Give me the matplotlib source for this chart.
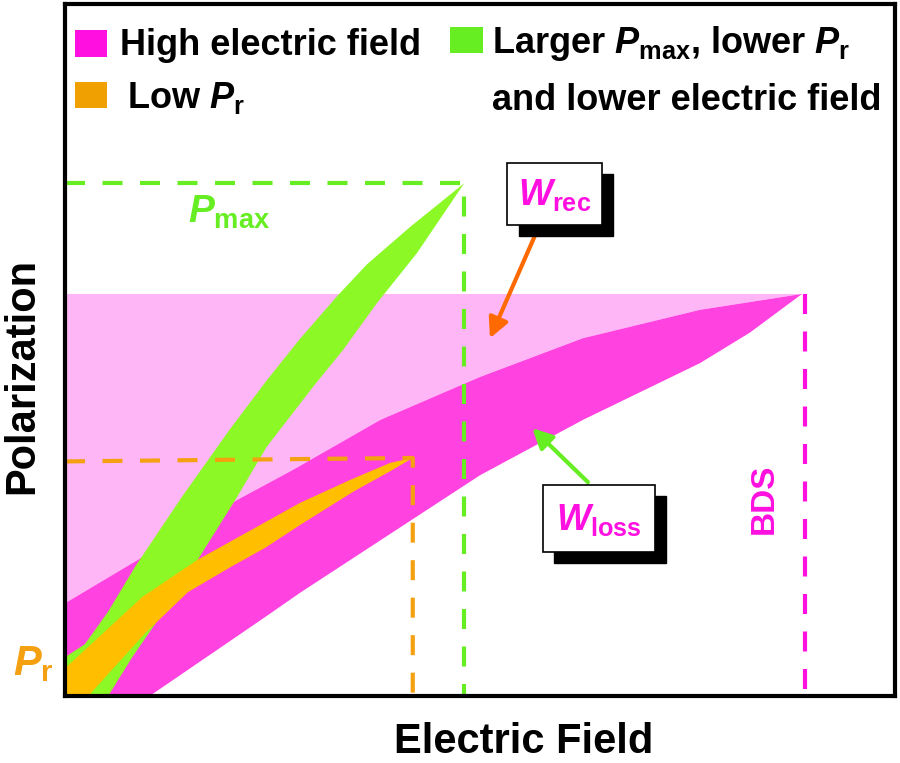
"""
Energy storage sketch: P-E loops for three strategies
"""

import matplotlib.pyplot as plt
from matplotlib.patches import Rectangle

plt.rcParams["font.family"] = ["Liberation Sans", "DejaVu Sans"]
plt.rcParams["font.weight"] = "bold"
plt.rcParams["mathtext.fontset"] = "custom"
plt.rcParams["mathtext.rm"] = "Liberation Sans:bold"
plt.rcParams["mathtext.it"] = "Liberation Sans:bold:italic"
plt.rcParams["mathtext.bf"] = "Liberation Sans:bold"

# electric field / polarization in arbitrary units (axes run 0-100)

# high electric field loop
high_up_E = [0, 8.4, 20.7, 27.5, 38.0, 50.0, 62.4, 76.5, 88.8]
high_up_P = [13.4, 19.4, 28.3, 32.7, 39.9, 46.1, 51.7, 55.8, 58.1]
high_down_E = [10.2, 24.1, 28.3, 50.0, 62.4, 76.5, 82.5, 88.8]
high_down_P = [0, 11.4, 14.9, 31.9, 39.9, 48.1, 52.5, 58.1]
high_Pmax = 58.1
high_BDS = 89.1

# larger Pmax, lower Pr, lower field loop
large_up_E = [0, 2.4, 5.2, 8.4, 14.1, 19.9, 24.3, 28.3, 32.8, 36.4, 41.6, 48.1]
large_up_P = [5.6, 7.5, 12.2, 18.6, 28.8, 38.6, 45.6, 51.6, 57.8, 62.4, 67.8, 74.1]
large_down_E = [5.2, 8.1, 12.0, 16.0, 20.5, 24.3, 29.9, 33.5, 37.6, 42.4, 48.1]
large_down_P = [0, 5.6, 12.4, 19.7, 28.3, 36.0, 44.7, 50.0, 56.8, 64.0, 74.1]
large_Emax = 48.1
large_Pmax = 74.1

# low Pr loop
lowpr_up_E = [0, 9.3, 16.0, 23.5, 28.3, 34.3, 39.2, 41.9]
lowpr_up_P = [4.0, 14.3, 19.7, 24.7, 27.9, 31.2, 33.7, 34.4]
lowpr_down_E = [2.8, 9.6, 14.8, 19.9, 24.1, 28.3, 34.7, 39.2, 41.9]
lowpr_down_P = [0, 9.0, 15.0, 18.6, 21.4, 24.7, 29.5, 32.5, 34.4]
lowpr_Emax = 41.9
lowpr_Pmax = 34.4

MAGENTA = "#ff10e0"
PINK = "#ff42e0"
LIGHT_PINK = "#ffb6f6"
GREEN = "#8cf825"
GREEN_LINE = "#66ee22"
ORANGE = "#ffbf00"
ORANGE_LINE = "#f5a010"
DASH = (4.8, 4.2)


def loop_polygon(up_E, up_P, down_E, down_P):
    xs = list(up_E) + list(down_E[::-1]) + [0]
    ys = list(up_P) + list(down_P[::-1]) + [0]
    return xs, ys


fig = plt.figure(figsize=(9, 7.63), dpi=100)
ax = fig.add_axes([65 / 900, 67 / 763, 830 / 900, 692 / 763])
ax.set_xlim(0, 100)
ax.set_ylim(0, 100)
ax.set_xticks([])
ax.set_yticks([])
for sp in ax.spines.values():
    sp.set_linewidth(3)

# recoverable energy (light pink) above the discharge branch
ax.fill(
    [0] + high_up_E[::-1],
    [high_Pmax] + high_up_P[::-1],
    color=LIGHT_PINK, lw=0
)

xs, ys = loop_polygon(high_up_E, high_up_P, high_down_E, high_down_P)
ax.fill(xs, ys, color=PINK, lw=0)

xs, ys = loop_polygon(large_up_E, large_up_P, large_down_E, large_down_P)
ax.fill(xs, ys, color=GREEN, lw=0)

xs, ys = loop_polygon(lowpr_up_E, lowpr_up_P, lowpr_down_E, lowpr_down_P)
ax.fill(xs, ys, color=ORANGE, lw=0)

# guide lines
ax.plot([0, large_Emax, large_Emax], [large_Pmax, large_Pmax, 0],
        color=GREEN_LINE, lw=3, dashes=DASH)
ax.plot([0, lowpr_Emax, lowpr_Emax], [lowpr_Pmax - 0.5, lowpr_Pmax, 0],
        color=ORANGE_LINE, lw=3, dashes=DASH)
ax.plot([high_BDS, high_BDS], [high_Pmax, 0],
        color=MAGENTA, lw=3, dashes=DASH)

# arrows
ax.annotate("", xy=(51.2, 51.7), xytext=(56.9, 67.3),
            arrowprops=dict(arrowstyle="-|>", color="#ff6a00", lw=3,
                            mutation_scale=30, shrinkA=0, shrinkB=0))
ax.annotate("", xy=(56.3, 38.7), xytext=(63.0, 30.9),
            arrowprops=dict(arrowstyle="-|>", color=GREEN_LINE, lw=3,
                            mutation_scale=30, shrinkA=0, shrinkB=0))

# labelled boxes with drop shadow
boxes = [
    (53.3, 68.1, 11.4, 8.9, r"$W_{\mathrm{rec}}$"),
    (57.6, 20.8, 13.5, 9.7, r"$W_{\mathrm{loss}}$"),
]
for bx, by, bw, bh, label in boxes:
    ax.add_patch(Rectangle((bx + 1.35, by - 1.6), bw, bh,
                           facecolor="black", edgecolor="black", zorder=5))
    ax.add_patch(Rectangle((bx, by), bw, bh, facecolor="white",
                           edgecolor="black", lw=1.2, zorder=6))
    ax.text(bx + bw / 2, by + bh / 2 - 0.2, label, color=MAGENTA,
            fontsize=26, ha="center", va="center", zorder=7)

ax.text(14.8, 68.4, r"$P_{\mathrm{max}}$", color=GREEN_LINE,
        fontsize=28, ha="left", va="baseline")
ax.text(-6.3, 3.0, r"$P_{\mathrm{r}}$", color=ORANGE_LINE,
        fontsize=30, ha="left", va="baseline", clip_on=False)
ax.text(84.3, 28.5, "BDS", color=MAGENTA, fontsize=24,
        rotation=90, ha="center", va="center")

# legend drawn by hand
ax.add_patch(Rectangle((1.2, 92.3), 3.9, 3.9, color=MAGENTA, lw=0))
ax.add_patch(Rectangle((1.2, 85.0), 3.9, 3.8, color="#f0a000", lw=0))
ax.add_patch(Rectangle((46.4, 92.9), 4.0, 3.8, color=GREEN_LINE, lw=0))
ax.text(6.6, 92.6, "High electric field", fontsize=26, va="baseline")
ax.text(7.5, 85.0, r"Low $P_{\mathrm{r}}$", fontsize=26, va="baseline")
ax.text(51.4, 92.9, r"Larger $P_{\mathrm{max}}$, lower $P_{\mathrm{r}}$",
        fontsize=26, va="baseline")
ax.text(51.4, 84.7, "and lower electric field", fontsize=26, va="baseline")

fig.text(524 / 900, 1 - 753 / 763, "Electric Field", fontsize=30,
         ha="center", va="baseline")
fig.text(22 / 900, 1 - 376 / 763, "Polarization", fontsize=30,
         rotation=90, ha="center", va="center")

fig.savefig("out.png", dpi=100)
plt.close(fig)
